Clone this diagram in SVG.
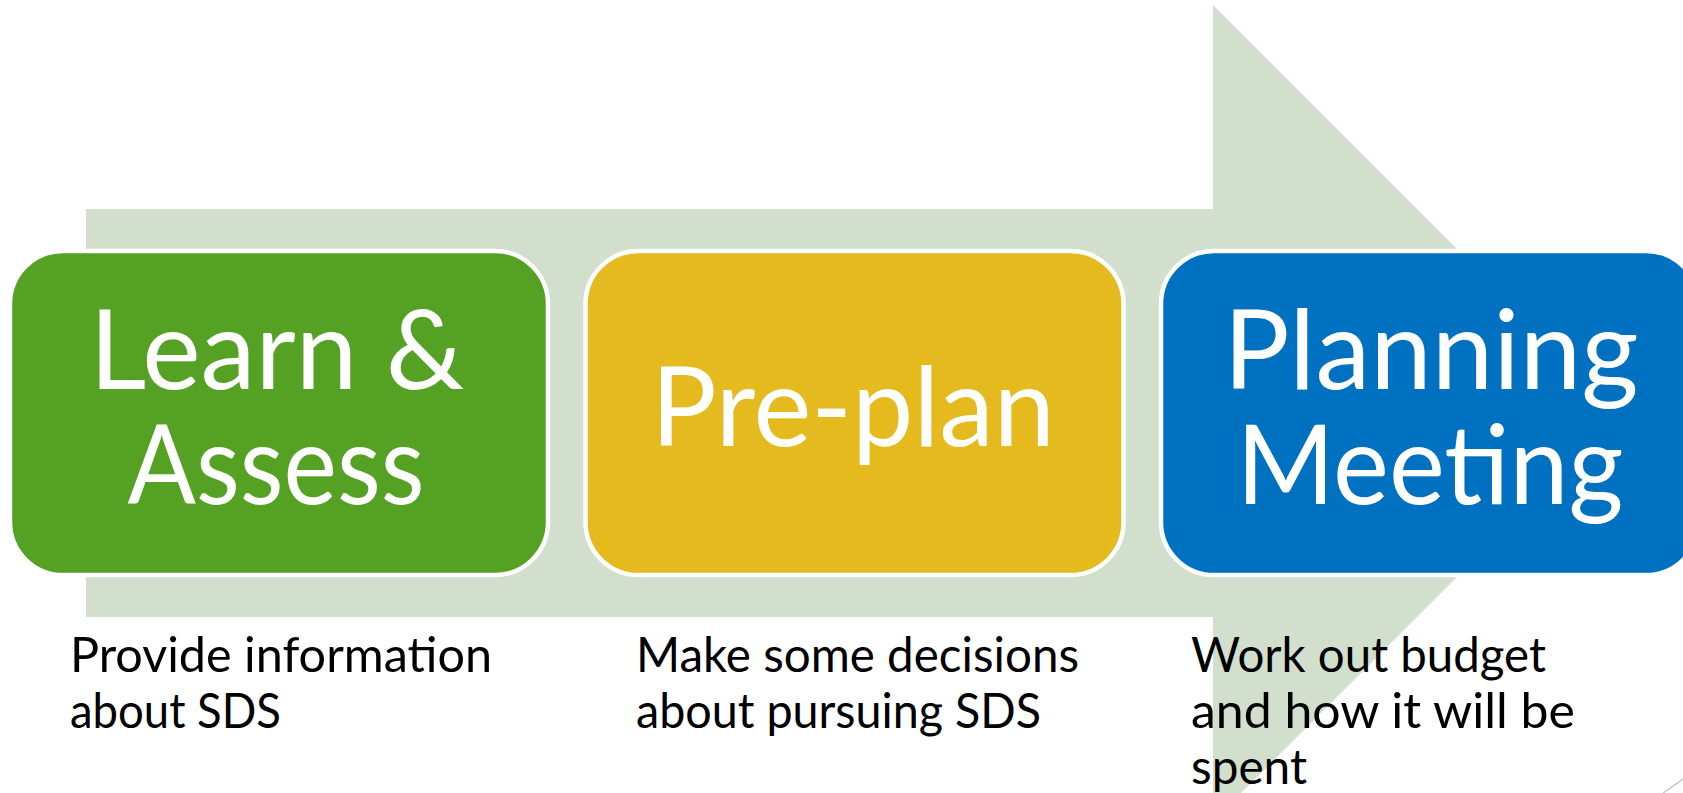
<svg xmlns="http://www.w3.org/2000/svg" width="1683" height="793" viewBox="0 0 1683 793">
<style>
.box{stroke:#FFFFFF;stroke-width:4.5}
.big{font-family:Lato,"Noto Sans","Liberation Sans",sans-serif;font-size:110px;fill:#FFFFFF;text-anchor:middle}
.desc{font-family:Lato,"Noto Sans","Liberation Sans",sans-serif;font-size:48px;fill:#000000}
</style>
<rect x="0" y="0" width="1683" height="793" fill="#FFFFFF"/>
<g id="arrow">
<polygon points="86,209 1213,209 1213,5 1621,413 1213,821 1213,617 86,617" fill="#D3DFCD"/>
</g>
<g id="connectors"></g>
<g id="node-learn">
<rect class="box" x="10" y="251" width="538" height="324" rx="53" ry="53" fill="#55A124"/>
<text class="big" x="277" y="389" textLength="375" lengthAdjust="spacingAndGlyphs">Learn &amp;</text>
<text class="big" x="276" y="504" textLength="297" lengthAdjust="spacingAndGlyphs">Assess</text>
</g>
<g id="node-preplan">
<rect class="box" x="585.5" y="251" width="538" height="324" rx="53" ry="53" fill="#E4BA1F"/>
<text class="big" x="853" y="446" textLength="404" lengthAdjust="spacingAndGlyphs">Pre-plan</text>
</g>
<g id="node-planning">
<rect class="box" x="1161" y="251" width="538" height="324" rx="53" ry="53" fill="#0071C1"/>
<text class="big" x="1431" y="389" textLength="415" lengthAdjust="spacingAndGlyphs">Planning</text>
<text class="big" x="1430" y="504" textLength="387" lengthAdjust="spacingAndGlyphs">Meeting</text>
</g>
<g id="desc-learn">
<text class="desc" x="70" y="672" textLength="422" lengthAdjust="spacingAndGlyphs">Provide information</text>
<text class="desc" x="70" y="728" textLength="211" lengthAdjust="spacingAndGlyphs">about SDS</text>
</g>
<g id="desc-preplan">
<text class="desc" x="636" y="672" textLength="443" lengthAdjust="spacingAndGlyphs">Make some decisions</text>
<text class="desc" x="636" y="728" textLength="405" lengthAdjust="spacingAndGlyphs">about pursuing SDS</text>
</g>
<g id="desc-planning">
<text class="desc" x="1191" y="672" textLength="355" lengthAdjust="spacingAndGlyphs">Work out budget</text>
<text class="desc" x="1191" y="728" textLength="384" lengthAdjust="spacingAndGlyphs">and how it will be</text>
<text class="desc" x="1191" y="784" textLength="116" lengthAdjust="spacingAndGlyphs">spent</text>
</g>
<line x1="1663" y1="793" x2="1683" y2="779" stroke="#C8C8C8" stroke-width="1.5"/>
</svg>
